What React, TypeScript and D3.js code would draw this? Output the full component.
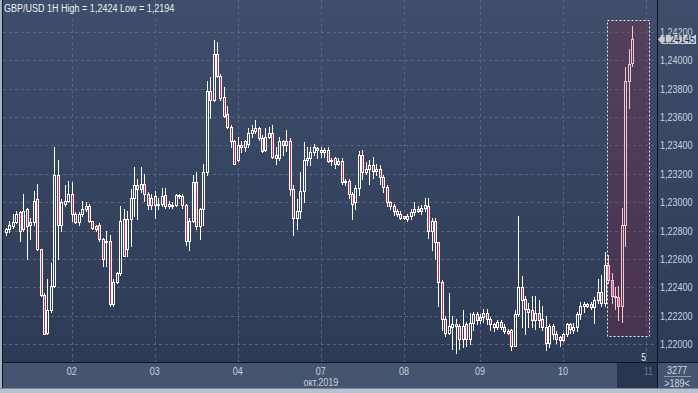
import * as d3 from "d3";

// GBP/USD 1H candles, Oct 1 - Oct 10 2019
const opens = [
  1.2279, 1.2281, 1.2283, 1.2286, 1.2293, 1.2281, 1.2295, 1.2284, 1.2286, 1.2302,
  1.2267, 1.2235, 1.2208, 1.2224, 1.2241, 1.2319, 1.2284, 1.2299, 1.2301, 1.2306,
  1.2292, 1.2286, 1.2292, 1.2295, 1.2297, 1.2287, 1.2283, 1.2284, 1.2274, 1.2272,
  1.2273, 1.2228, 1.2244, 1.2250, 1.2288, 1.2267, 1.2288, 1.2303, 1.2312, 1.2309,
  1.2313, 1.2306, 1.2298, 1.2304, 1.2298, 1.2299, 1.2305, 1.2297, 1.2298, 1.2298,
  1.2305, 1.2304, 1.2298, 1.2273, 1.2287, 1.2314, 1.2283, 1.2295, 1.2321, 1.2378,
  1.2372, 1.2404, 1.2389, 1.2374, 1.2362, 1.2353, 1.2343, 1.2330, 1.2340, 1.2339,
  1.2341, 1.2349, 1.2350, 1.2352, 1.2345, 1.2337, 1.2346, 1.2349, 1.2333, 1.2331,
  1.2343, 1.2340, 1.2343, 1.2309, 1.2289, 1.2294, 1.2308, 1.2330, 1.2331, 1.2335,
  1.2338, 1.2337, 1.2335, 1.2337, 1.2329, 1.2331, 1.2327, 1.2329, 1.2314, 1.2315,
  1.2306, 1.2300, 1.2310, 1.2333, 1.2321, 1.2323, 1.2326, 1.2322, 1.2323, 1.2318,
  1.2311, 1.2300, 1.2297, 1.2294, 1.2292, 1.2290, 1.2288, 1.2290, 1.2293, 1.2295,
  1.2294, 1.2296, 1.2297, 1.2280, 1.2287, 1.2272, 1.2244, 1.2218, 1.2208, 1.2212,
  1.2214, 1.2213, 1.2204, 1.2214, 1.2204, 1.2215, 1.2221, 1.2217, 1.2219, 1.2222,
  1.2218, 1.2214, 1.2212, 1.2216, 1.2212, 1.2209, 1.2210, 1.2199, 1.2221, 1.2240,
  1.2232, 1.2225, 1.2224, 1.2217, 1.2222, 1.2218, 1.2212, 1.2201, 1.2213, 1.2207,
  1.2205, 1.2203, 1.2207, 1.2214, 1.2210, 1.2212, 1.2221, 1.2227, 1.2228, 1.2228,
  1.2226, 1.2231, 1.2237, 1.2229, 1.2256, 1.2245, 1.2234, 1.2233, 1.2227, 1.2284,
  1.2385, 1.2398,
];
const highs = [
  1.2282, 1.2287, 1.2292, 1.2294, 1.2294, 1.2306, 1.2296, 1.2289, 1.2308, 1.2313,
  1.2267, 1.2236, 1.2246, 1.2257, 1.2339, 1.2330, 1.2302, 1.2312, 1.2315, 1.2314,
  1.2293, 1.2293, 1.2301, 1.2300, 1.2299, 1.2287, 1.2284, 1.2285, 1.2275, 1.2280,
  1.2277, 1.2246, 1.2251, 1.2297, 1.2295, 1.2294, 1.2309, 1.2325, 1.2316, 1.2325,
  1.2320, 1.2307, 1.2306, 1.2308, 1.2303, 1.2310, 1.2310, 1.2301, 1.2300, 1.2306,
  1.2306, 1.2306, 1.2299, 1.2289, 1.2319, 1.2321, 1.2296, 1.2327, 1.2385, 1.2388,
  1.2414, 1.2413, 1.2390, 1.2381, 1.2368, 1.2354, 1.2344, 1.2346, 1.2343, 1.2344,
  1.2352, 1.2354, 1.2358, 1.2353, 1.2347, 1.2352, 1.2353, 1.2354, 1.2339, 1.2346,
  1.2344, 1.2351, 1.2345, 1.2312, 1.2302, 1.2321, 1.2342, 1.2339, 1.2339, 1.2341,
  1.2339, 1.2339, 1.2338, 1.2339, 1.2331, 1.2332, 1.2331, 1.2331, 1.2316, 1.2316,
  1.2307, 1.2312, 1.2336, 1.2337, 1.2328, 1.2330, 1.2332, 1.2327, 1.2326, 1.2319,
  1.2312, 1.2301, 1.2299, 1.2295, 1.2294, 1.2290, 1.2292, 1.2295, 1.2300, 1.2297,
  1.2298, 1.2303, 1.2303, 1.2289, 1.2289, 1.2272, 1.2245, 1.2220, 1.2236, 1.2220,
  1.2218, 1.2214, 1.2224, 1.2216, 1.2222, 1.2223, 1.2223, 1.2221, 1.2225, 1.2225,
  1.2219, 1.2215, 1.2217, 1.2217, 1.2214, 1.2211, 1.2211, 1.2224, 1.2290, 1.2248,
  1.2234, 1.2229, 1.2234, 1.2234, 1.2231, 1.2227, 1.2220, 1.2214, 1.2214, 1.2209,
  1.2206, 1.2208, 1.2215, 1.2215, 1.2215, 1.2223, 1.2230, 1.2230, 1.2229, 1.2230,
  1.2233, 1.2246, 1.2249, 1.2265, 1.2263, 1.2250, 1.2240, 1.2241, 1.2296, 1.2395,
  1.2408, 1.2424,
];
const lows = [
  1.2277, 1.2279, 1.2282, 1.2285, 1.2273, 1.2280, 1.2260, 1.2274, 1.2284, 1.2266,
  1.2234, 1.2207, 1.2207, 1.2223, 1.2240, 1.2260, 1.2280, 1.2297, 1.2300, 1.2287,
  1.2285, 1.2284, 1.2290, 1.2294, 1.2286, 1.2281, 1.2280, 1.2273, 1.2255, 1.2255,
  1.2227, 1.2227, 1.2243, 1.2249, 1.2262, 1.2262, 1.2269, 1.2290, 1.2288, 1.2307,
  1.2301, 1.2295, 1.2295, 1.2289, 1.2295, 1.2297, 1.2296, 1.2296, 1.2296, 1.2297,
  1.2303, 1.2296, 1.2270, 1.2266, 1.2286, 1.2281, 1.2274, 1.2284, 1.2319, 1.2359,
  1.2371, 1.2388, 1.2372, 1.2360, 1.2352, 1.2339, 1.2327, 1.2329, 1.2335, 1.2336,
  1.2339, 1.2346, 1.2349, 1.2344, 1.2335, 1.2336, 1.2345, 1.2331, 1.2327, 1.2330,
  1.2333, 1.2336, 1.2305, 1.2277, 1.2281, 1.2289, 1.2300, 1.2326, 1.2326, 1.2333,
  1.2331, 1.2332, 1.2332, 1.2328, 1.2326, 1.2324, 1.2326, 1.2313, 1.2312, 1.2303,
  1.2288, 1.2295, 1.2305, 1.2316, 1.2320, 1.2313, 1.2317, 1.2319, 1.2313, 1.2307,
  1.2297, 1.2295, 1.2291, 1.2290, 1.2288, 1.2288, 1.2287, 1.2288, 1.2291, 1.2293,
  1.2292, 1.2294, 1.2275, 1.2266, 1.2260, 1.2227, 1.2210, 1.2206, 1.2207, 1.2197,
  1.2194, 1.2197, 1.2198, 1.2199, 1.2200, 1.2210, 1.2214, 1.2215, 1.2216, 1.2214,
  1.2210, 1.2209, 1.2211, 1.2211, 1.2208, 1.2207, 1.2196, 1.2199, 1.2220, 1.2212,
  1.2207, 1.2212, 1.2212, 1.2211, 1.2212, 1.2210, 1.2196, 1.2198, 1.2204, 1.2201,
  1.2199, 1.2202, 1.2206, 1.2208, 1.2208, 1.2209, 1.2218, 1.2223, 1.2226, 1.2225,
  1.2215, 1.2229, 1.2227, 1.2227, 1.2243, 1.2229, 1.2225, 1.2217, 1.2216, 1.2269,
  1.2366, 1.2396,
];
const closes = [
  1.2281, 1.2284, 1.2286, 1.2292, 1.2280, 1.2294, 1.2283, 1.2286, 1.2301, 1.2267,
  1.2235, 1.2207, 1.2224, 1.2241, 1.2319, 1.2284, 1.2300, 1.2301, 1.2306, 1.2292,
  1.2286, 1.2292, 1.2295, 1.2297, 1.2287, 1.2282, 1.2281, 1.2274, 1.2260, 1.2273,
  1.2228, 1.2244, 1.2250, 1.2287, 1.2262, 1.2288, 1.2303, 1.2312, 1.2309, 1.2313,
  1.2306, 1.2298, 1.2303, 1.2298, 1.2299, 1.2304, 1.2297, 1.2299, 1.2297, 1.2305,
  1.2304, 1.2298, 1.2273, 1.2287, 1.2314, 1.2283, 1.2295, 1.2321, 1.2378, 1.2372,
  1.2404, 1.2389, 1.2373, 1.2361, 1.2353, 1.2343, 1.2327, 1.2340, 1.2339, 1.2343,
  1.2349, 1.2351, 1.2352, 1.2345, 1.2336, 1.2346, 1.2349, 1.2332, 1.2331, 1.2343,
  1.2340, 1.2343, 1.2309, 1.2289, 1.2294, 1.2308, 1.2330, 1.2331, 1.2335, 1.2339,
  1.2337, 1.2335, 1.2337, 1.2329, 1.2330, 1.2327, 1.2329, 1.2314, 1.2315, 1.2306,
  1.2299, 1.2310, 1.2333, 1.2321, 1.2323, 1.2326, 1.2322, 1.2323, 1.2318, 1.2311,
  1.2300, 1.2297, 1.2294, 1.2292, 1.2289, 1.2289, 1.2290, 1.2293, 1.2295, 1.2294,
  1.2296, 1.2298, 1.2280, 1.2287, 1.2272, 1.2244, 1.2218, 1.2208, 1.2213, 1.2214,
  1.2213, 1.2204, 1.2213, 1.2204, 1.2215, 1.2221, 1.2217, 1.2219, 1.2222, 1.2218,
  1.2214, 1.2212, 1.2216, 1.2212, 1.2209, 1.2208, 1.2199, 1.2221, 1.2240, 1.2231,
  1.2225, 1.2223, 1.2217, 1.2222, 1.2217, 1.2212, 1.2201, 1.2213, 1.2207, 1.2204,
  1.2203, 1.2207, 1.2214, 1.2211, 1.2212, 1.2221, 1.2227, 1.2228, 1.2227, 1.2226,
  1.2231, 1.2237, 1.2229, 1.2256, 1.2245, 1.2234, 1.2233, 1.2227, 1.2284, 1.2385,
  1.2397, 1.24145,
];

// day separators (bar index where each day starts) and their labels
const dayStarts = [19, 43, 67, 91, 115, 137, 161, 185];
const dayLabels = ["02", "03", "04", "07", "08", "09", "10", "11"];
const priceTicks = [1.22, 1.222, 1.224, 1.226, 1.228, 1.23, 1.232, 1.234, 1.236, 1.238, 1.24, 1.242];
const lastPrice = 1.24145;
const highlightFrom = 174;
const title = "GBP/USD 1H High = 1,2424 Low = 1,2194";

const W = 698;
const H = 393;
const plotL = 3;
const plotR = 657;
const plotB = 362;
const font = "'Liberation Sans', Arial, sans-serif";

const fmt = (v: number) => v.toFixed(5).replace(".", ",");

// Arial Narrow look: regular sans squeezed horizontally
function NText({ x, y, fill, anchor = "start", size = 11, children }: any) {
  return (
    <text transform={`translate(${x},${y}) scale(0.82,1)`} fill={fill} fontFamily={font}
      fontSize={size} textAnchor={anchor}>
      {children}
    </text>
  );
}

export default function App() {
  const x = d3.scaleLinear().domain([-1, 188]).range([2.5, 656.5]);
  const y = d3.scaleLinear().domain([1.21875, 1.24423]).range([plotB, 0]);

  const candles = opens.map((o, i) => ({ i, o, h: highs[i], l: lows[i], c: closes[i] }));
  const hl = candles.filter((d) => d.i >= highlightFrom);
  const boxTop = y(d3.max(hl, (d) => d.h)!) - 6;
  const boxBot = y(d3.min(hl, (d) => d.l)!) + 14;
  const boxL = Math.round(x(highlightFrom - 0.4)) + 0.5;
  const boxR = Math.round(x(185.9)) + 0.5;

  const lastY = y(lastPrice);

  return (
    <svg width={W} height={H} style={{ position: "absolute", left: 0, top: 0 }}>
      <defs>
        <linearGradient id="bg" x1="0" y1="0" x2="0" y2="1">
          <stop offset="0" stopColor="#3e4e6b" />
          <stop offset="1" stopColor="#2c3954" />
        </linearGradient>
      </defs>
      <rect x={0} y={0} width={W} height={H} fill="url(#bg)" />

      {/* horizontal grid */}
      {priceTicks.map((p) => (
        <line key={p} x1={plotL} x2={plotR} y1={Math.round(y(p)) + 0.5} y2={Math.round(y(p)) + 0.5}
          stroke="#58677f" strokeDasharray="3,3" />
      ))}
      {/* vertical grid */}
      {dayStarts.map((d) => (
        <line key={d} x1={Math.round(x(d)) + 0.5} x2={Math.round(x(d)) + 0.5} y1={0} y2={plotB}
          stroke="#58677f" strokeDasharray="3,3" />
      ))}

      {/* highlighted zone */}
      <rect x={boxL} y={Math.round(boxTop) + 0.5} width={boxR - boxL} height={Math.round(boxBot - boxTop)}
        fill="rgba(127,38,66,0.32)" stroke="#e8e8ee" strokeDasharray="2,2" />

      {/* candles */}
      {candles.map((d) => {
        const cx = Math.round(x(d.i));
        const pink = d.i >= highlightFrom;
        const stroke = pink ? "#f3c6d0" : "#ffffff";
        const down = d.c < d.o;
        const top = Math.round(y(Math.max(d.o, d.c))) + 0.5;
        let bot = Math.round(y(Math.min(d.o, d.c))) + 0.5;
        if (bot - top < 1) bot = top + 1;
        const yh = Math.round(y(d.h)) + 0.5;
        const yl = Math.round(y(d.l)) + 0.5;
        return (
          <g key={d.i}>
            {yh < top && <line x1={cx + 0.5} x2={cx + 0.5} y1={yh - 0.5} y2={top} stroke={stroke} />}
            {yl > bot && <line x1={cx + 0.5} x2={cx + 0.5} y1={bot} y2={yl + 0.5} stroke={stroke} />}
            <rect x={cx - 0.5} y={top} width={2} height={bot - top} stroke={stroke}
              fill={down ? (pink ? "#d9587a" : "#c0304a") : "none"} />
          </g>
        );
      })}

      <NText x={4} y={11.5} fill="#eef1f6">{title}</NText>
      <NText x={646} y={361} fill="#e6eaf0" anchor="end" size={10.5}>5</NText>

      {/* right price axis */}
      {priceTicks.map((p) => (
        <NText key={p} x={660} y={y(p) + 4} fill="#c9d1dd">{fmt(p)}</NText>
      ))}
      <path d={`M658,${lastY} L662,${lastY - 4.5} L696,${lastY - 4.5} L696,${lastY + 4.5} L662,${lastY + 4.5} Z`}
        fill="#c6ced9" />
      <NText x={662.5} y={lastY + 4} fill="#1c2638">{fmt(lastPrice)}</NText>

      {/* bottom time axis */}
      <rect x={0} y={plotB} width={W} height={27} fill="#45546f" />
      <rect x={617} y={plotB + 1} width={plotR - 617} height={26} fill="#2a3550" />
      {dayLabels.slice(0, -1).map((lab, k) => (
        <NText key={lab} x={x(dayStarts[k])} y={374.5} fill="#c9d1dd" anchor="middle">{lab}</NText>
      ))}
      <NText x={653} y={374.5} fill="#68778f" anchor="end">{dayLabels[dayLabels.length - 1]}</NText>
      <NText x={x(91)} y={386} fill="#c9d1dd" anchor="middle">окт.2019</NText>
      <NText x={677} y={374} fill="#d3d9e3" anchor="middle">3277</NText>
      <line x1={664} x2={691} y1={376.5} y2={376.5} stroke="#8e9ab0" />
      <NText x={677} y={386.5} fill="#d3d9e3" anchor="middle">{">189<"}</NText>

      {/* frame */}
      <line x1={0} x2={W} y1={plotB + 0.5} y2={plotB + 0.5} stroke="#0d1320" />
      <line x1={plotR + 0.5} x2={plotR + 0.5} y1={0} y2={389} stroke="#0d1320" />
      <rect x={0} y={0} width={2} height={389} fill="#a6b1c2" />
      <line x1={2.5} x2={2.5} y1={0} y2={389} stroke="#0d1320" />
      <rect x={0} y={389} width={W} height={4} fill="#b8c2cf" />
      <line x1={0} x2={W} y1={388.5} y2={388.5} stroke="#7d8aa0" />
    </svg>
  );
}
